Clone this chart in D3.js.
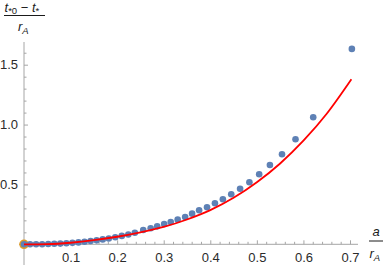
<!DOCTYPE html>
<html>
<head>
<meta charset="utf-8">
<script src="https://cdn.jsdelivr.net/npm/d3@7"></script>
<style>
  body { margin: 0; background: #fff; }
  svg { display: block; font-family: "Liberation Sans", Arial, sans-serif; }
  .tick text { font-size: 13px; fill: #2b2b2b; }
</style>
</head>
<body>
<div class="chart"></div>
<script>
// dots (a / rA, (t*0 - t*) / rA)
let dotA = [0, 0.013, 0.026, 0.039, 0.052, 0.065, 0.078, 0.091, 0.104, 0.117, 0.130, 0.143, 0.156, 0.169, 0.182, 0.196, 0.210, 0.224, 0.238,
            0.256, 0.272, 0.286, 0.301, 0.315, 0.330, 0.346, 0.361, 0.376, 0.393, 0.410, 0.427, 0.445, 0.464, 0.484, 0.505, 0.528, 0.554, 0.583, 0.621, 0.704];
let dotV = [0, 0.000, 0.0004, 0.001, 0.002, 0.004, 0.006, 0.009, 0.012, 0.016, 0.021, 0.027, 0.033, 0.041, 0.049, 0.059, 0.070, 0.082, 0.096,
            0.119, 0.134, 0.150, 0.170, 0.186, 0.206, 0.228, 0.256, 0.284, 0.309, 0.343, 0.376, 0.418, 0.464, 0.518, 0.585, 0.662, 0.752, 0.877, 1.061, 1.632];

// red curve
let curveA = [0, 0.05, 0.1, 0.15, 0.2, 0.25, 0.3, 0.35, 0.4, 0.45, 0.5, 0.55, 0.6, 0.65, 0.703];
let curveV = [0, 0.002, 0.013, 0.034, 0.063, 0.100, 0.145, 0.207, 0.285, 0.388, 0.518, 0.675, 0.865, 1.090, 1.378];

let xTicks = [0.1, 0.2, 0.3, 0.4, 0.5, 0.6, 0.7];
let yTicks = [0.5, 1.0, 1.5];

let width = 384, height = 265;

let svg = d3.select(".chart").append("svg")
    .attr("width", width)
    .attr("height", height);

let x = d3.scaleLinear().domain([0, 0.7]).range([24, 350]);
let y = d3.scaleLinear().domain([0, 1.5]).range([244.3, 64.7]);

let axisColor = "#a6a6a6";

// axis lines
svg.append("line")
    .attr("x1", 19).attr("x2", 358)
    .attr("y1", y(0)).attr("y2", y(0))
    .attr("stroke", axisColor);
svg.append("line")
    .attr("x1", x(0)).attr("x2", x(0))
    .attr("y1", 42).attr("y2", 265)
    .attr("stroke", axisColor);

let xMinor = d3.range(1, 36).map(i => i * 0.02).filter(v => Math.abs(v * 10 - Math.round(v * 10)) > 1e-6);
let yMinor = d3.range(1, 17).map(i => i * 0.1).filter(v => Math.abs(v * 2 - Math.round(v * 2)) > 1e-6);

svg.append("g")
    .attr("transform", "translate(0," + y(0) + ")")
    .call(d3.axisBottom(x).tickValues(xTicks).tickSize(-4).tickPadding(8).tickFormat(d3.format(".1f")));
svg.append("g")
    .attr("transform", "translate(0," + y(0) + ")")
    .call(d3.axisBottom(x).tickValues(xMinor).tickSize(-2.5).tickFormat(""));

svg.append("g")
    .attr("transform", "translate(" + x(0) + ",0)")
    .call(d3.axisLeft(y).tickValues(yTicks).tickSize(-4).tickPadding(6).tickFormat(d3.format(".1f")));
svg.append("g")
    .attr("transform", "translate(" + x(0) + ",0)")
    .call(d3.axisLeft(y).tickValues(yMinor).tickSize(-2.5).tickFormat(""));

svg.selectAll(".domain").remove();
svg.selectAll(".tick line").attr("stroke", axisColor);
svg.selectAll(".tick text").attr("font-family", null).attr("font-size", null);

// origin point
svg.append("circle")
    .attr("cx", x(0)).attr("cy", y(0)).attr("r", 4.8)
    .attr("fill", "#E19C24");

// dots
svg.selectAll(".dot")
  .data(dotA.map((a, i) => [a, dotV[i]]))
  .enter().append("circle")
    .attr("class", "dot")
    .attr("cx", d => x(d[0]))
    .attr("cy", d => y(d[1]))
    .attr("r", 3.3)
    .attr("fill", "#5E81B5");

// red curve
let line = d3.line()
    .curve(d3.curveMonotoneX)
    .x(d => x(d[0]))
    .y(d => y(d[1]));

svg.append("path")
    .datum(curveA.map((a, i) => [a, curveV[i]]))
    .attr("d", line)
    .attr("fill", "none")
    .attr("stroke", "#ff0000")
    .attr("stroke-width", 1.8);

// y label: (t*0 - t*) / rA
let yl = svg.append("g").attr("font-size", 13).attr("fill", "#1a1a1a");
let num = yl.append("text").attr("x", 4.5).attr("y", 11.5);
num.append("tspan").attr("font-style", "italic").text("t");
num.append("tspan").attr("font-size", 9.5).attr("dy", 2.5).text("*0");
num.append("tspan").attr("dy", -2.5).text(" \u2212 ");
num.append("tspan").attr("font-style", "italic").text("t");
num.append("tspan").attr("font-size", 9.5).attr("dy", 2.5).text("*");
yl.append("line")
    .attr("x1", 4).attr("x2", 45).attr("y1", 15.5).attr("y2", 15.5)
    .attr("stroke", "#1a1a1a").attr("stroke-width", 1);
let den = yl.append("text").attr("x", 18).attr("y", 31);
den.append("tspan").attr("font-style", "italic").text("r");
den.append("tspan").attr("font-style", "italic").attr("font-size", 9.5).attr("dy", 3).text("A");

// x label: a / rA
let xl = svg.append("g").attr("font-size", 13).attr("fill", "#1a1a1a");
xl.append("text").attr("x", 376).attr("y", 236).attr("text-anchor", "middle")
    .attr("font-style", "italic").text("a");
xl.append("line")
    .attr("x1", 369).attr("x2", 383).attr("y1", 241).attr("y2", 241)
    .attr("stroke", "#1a1a1a").attr("stroke-width", 1);
let xden = xl.append("text").attr("x", 369.5).attr("y", 258);
xden.append("tspan").attr("font-style", "italic").text("r");
xden.append("tspan").attr("font-style", "italic").attr("font-size", 9.5).attr("dy", 3).text("A");
</script>
</body>
</html>
